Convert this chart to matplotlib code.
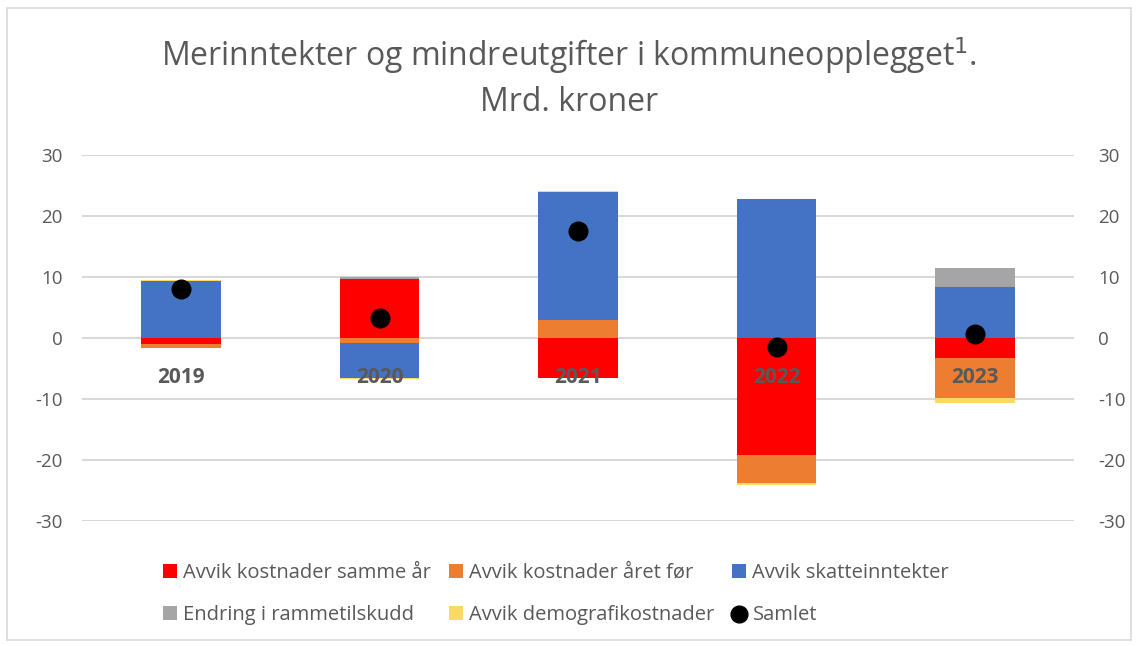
import numpy as np
import matplotlib
matplotlib.use('Agg')
import matplotlib.pyplot as plt
from matplotlib.patches import Rectangle

years = ['2019', '2020', '2021', '2022', '2023']
samme_aar = [-0.9, 9.7, -6.6, -19.2, -3.3]
aaret_for = [-0.7, -0.8, 2.9, -4.6, -6.6]
skatt = [9.3, -5.8, 21.1, 22.8, 8.4]
rammetilskudd = [0.0, 0.3, 0.0, 0.0, 3.1]
demografi = [0.15, -0.1, 0.15, -0.3, -0.7]
samlet = [8.0, 3.3, 17.5, -1.4, 0.6]

series = [('Avvik kostnader samme år', samme_aar, '#FF0000'),
          ('Avvik kostnader året før', aaret_for, '#ED7D31'),
          ('Avvik skatteinntekter', skatt, '#4472C4'),
          ('Endring i rammetilskudd', rammetilskudd, '#A5A5A5'),
          ('Avvik demografikostnader', demografi, '#FFD966')]

GREY = '#595959'
plt.rcParams.update({'font.family': ['Open Sans', 'DejaVu Sans'], 'axes.unicode_minus': False})

fig = plt.figure(figsize=(11.38, 6.46), dpi=100)
ax = fig.add_axes([0.072, 0.1935, 0.872, 0.5665])
x = np.arange(len(years))
pos = np.zeros(len(years)); neg = np.zeros(len(years))
handles = []
for name, vals, col in series:
    v = np.array(vals)
    base = np.where(v >= 0, pos, neg)
    handles.append(ax.bar(x, v, 0.40, bottom=base, color=col, label=name, zorder=3))
    pos = pos + np.clip(v, 0, None); neg = neg + np.clip(v, None, 0)
handles.append(ax.scatter(x, samlet, s=180, color='black', zorder=5, label='Samlet'))
for xi, yr in zip(x, years):
    ax.text(xi, -6.5, yr, ha='center', va='center', fontsize=15, fontweight='bold', color=GREY, zorder=6)

ax.set_xlim(-0.5, len(years) - 0.5)
ax.set_ylim(-30, 30)
ax.set_yticks(range(-30, 31, 10))
ax.set_xticks([])
ax.grid(axis='y', color='#D9D9D9', lw=1.5, zorder=0)
for s in ax.spines.values(): s.set_visible(False)
ax.tick_params(axis='y', length=0, labelsize=13.5, labelcolor=GREY, pad=14)
ax2 = ax.twinx()
ax2.set_ylim(ax.get_ylim()); ax2.set_yticks(range(-30, 31, 10))
for s in ax2.spines.values(): s.set_visible(False)
ax2.tick_params(axis='y', length=0, labelsize=13.5, labelcolor=GREY, pad=17)

fig.text(0.5, 0.88, 'Merinntekter og mindreutgifter i kommuneopplegget$^1$.\nMrd. kroner',
         ha='center', va='center', fontsize=23, color=GREY, linespacing=1.4)

# legend filled column-wise -> reorder so rows read left to right
order = [0, 3, 1, 4, 2, 5]
h = [handles[i] for i in order]
l = [handles[i].get_label() for i in order]
fig.legend(h, l, loc='center left', bbox_to_anchor=(0.127, 0.081), ncol=3, frameon=False,
           fontsize=14.5, labelcolor=GREY, handlelength=0.7, handleheight=0.7,
           handletextpad=0.3, columnspacing=0.9, labelspacing=1.1, markerscale=0.9)
fig.patches.append(Rectangle((0.006, 0.01), 0.988, 0.978, transform=fig.transFigure,
                             fill=False, edgecolor='#D9D9D9', lw=1.2))
fig.savefig('out.png', dpi=100, facecolor='white')
